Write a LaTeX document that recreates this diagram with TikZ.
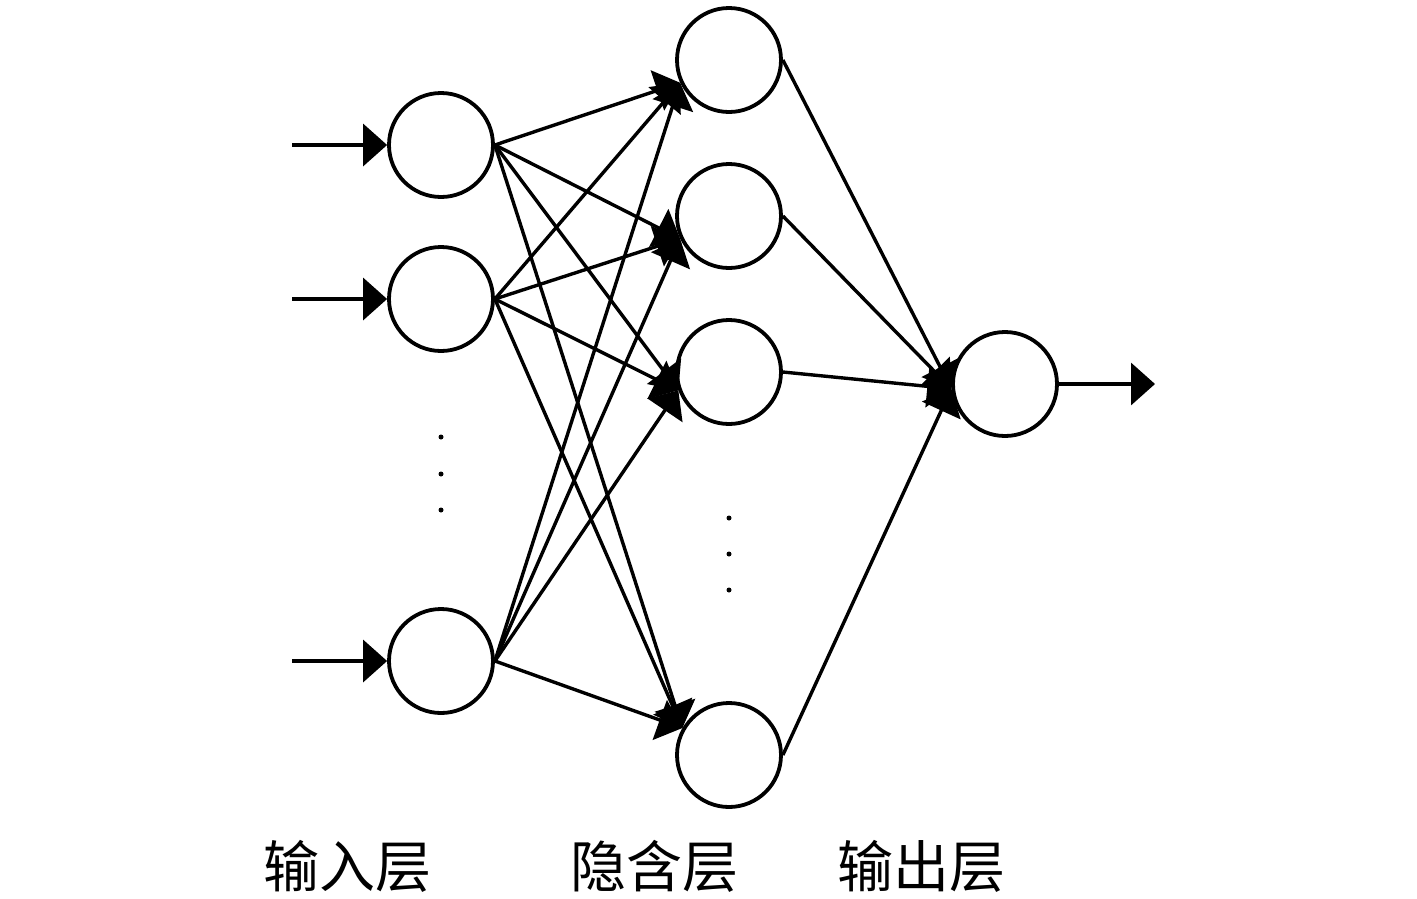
\documentclass[tikz,border=0pt]{standalone}
\usepackage{fontspec}
\newfontfamily\cjk{Noto Sans CJK SC}
\usetikzlibrary{arrows.meta}
\begin{document}
\begin{tikzpicture}[x=1pt,y=-1pt,
  neuron/.style={circle,draw,line width=3.8pt,minimum size=104pt,inner sep=0pt},
  conn/.style={line width=3.4pt,-{Triangle[length=24pt,width=42pt]}},
  dotm/.style={circle,fill,inner sep=0pt,minimum size=5pt},
  lab/.style={font=\cjk\fontsize{56pt}{60pt}\selectfont}]
\useasboundingbox (0,0) rectangle (1417,898);
% input layer
\node[neuron] (i1) at (441,145) {};
\node[neuron] (i2) at (441,299) {};
\node[neuron] (i3) at (441,661) {};
% hidden layer
\node[neuron] (h1) at (729,60) {};
\node[neuron] (h2) at (729,216) {};
\node[neuron] (h3) at (729,372) {};
\node[neuron] (h4) at (729,755) {};
% output
\node[neuron] (o) at (1005,384) {};
% input arrows
\coordinate (a1) at (292,145);
\coordinate (a2) at (292,299);
\coordinate (a3) at (292,661);
\coordinate (a4) at (1155,384);
\draw[conn] (a1) -- (i1.west);
\draw[conn] (a2) -- (i2.west);
\draw[conn] (a3) -- (i3.west);
\draw[conn] (o.east) -- (a4);
% input -> hidden
\foreach \i in {i1,i2,i3}{
  \draw[conn] (\i.east) -- (h1.205);
  \draw[conn] (\i.east) -- (h2.205);
  \draw[conn] (\i.east) -- (h3.200);
  \draw[conn] (\i.east) -- (h4.150);
}
% hidden -> output
\foreach \h in {h1,h2,h3,h4}{
  \draw[conn] (\h.east) -- (o.185);
}
% dots
\node[dotm] (d1) at (441,437) {};
\node[dotm] (d2) at (441,474) {};
\node[dotm] (d3) at (441,510) {};
\node[dotm] (d4) at (729,518) {};
\node[dotm] (d5) at (729,554) {};
\node[dotm] (d6) at (729,590) {};
% labels
\node[lab] (l1) at (347,866) {输入层};
\node[lab] (l2) at (654,866) {隐含层};
\node[lab] (l3) at (921,866) {输出层};
\end{tikzpicture}
\end{document}
